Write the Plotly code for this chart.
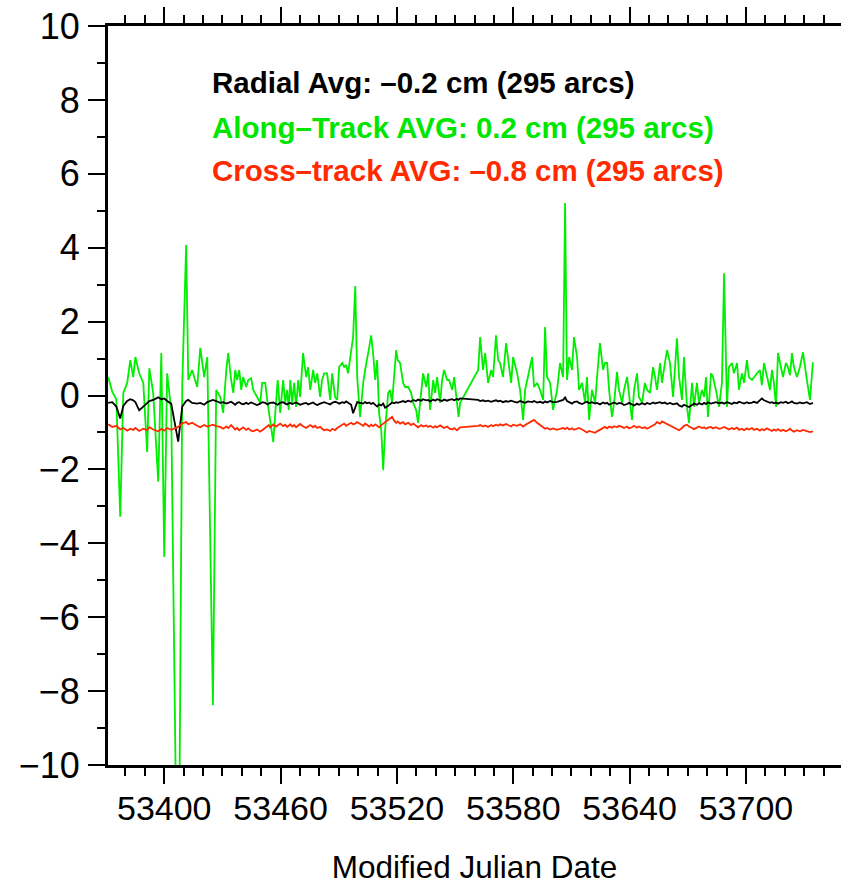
import plotly.graph_objects as go

# Arc epochs (MJD) and per-arc mean orbit differences (cm)
mjd = [
    53371.1, 53373.2, 53375.3, 53377.3, 53378.9, 53380.9, 53382.5, 53384.0, 53385.1, 53387.1,
    53389.2, 53391.2, 53392.3, 53394.3, 53396.9, 53398.5, 53400.0, 53401.5, 53403.6, 53407.2,
    53409.3, 53411.3, 53412.4, 53414.4, 53417.0, 53418.6, 53420.6, 53422.2, 53425.1, 53426.8,
    53428.9, 53430.4, 53432.0, 53433.0, 53434.5, 53435.6, 53436.6, 53437.6, 53438.7, 53439.7,
    53440.7, 53442.3, 53443.3, 53444.8, 53445.9, 53447.9, 53449.5, 53450.5, 53452.1, 53453.1,
    53453.9, 53454.6, 53456.2, 53457.7, 53458.5, 53459.8, 53461.3, 53462.4, 53463.4, 53464.2,
    53465.0, 53466.0, 53467.0, 53468.0, 53469.1, 53470.1, 53471.6, 53473.2, 53474.2, 53475.3,
    53476.8, 53477.8, 53478.9, 53480.4, 53481.4, 53482.5, 53484.0, 53485.6, 53486.6, 53488.1,
    53489.2, 53490.2, 53491.8, 53492.8, 53493.8, 53494.8, 53496.4, 53497.4, 53498.5, 53499.5,
    53501.0, 53502.6, 53503.6, 53504.6, 53505.7, 53506.7, 53507.7, 53508.8, 53509.8, 53510.8,
    53511.9, 53512.9, 53513.9, 53515.5, 53516.5, 53517.5, 53518.6, 53519.6, 53520.4, 53521.6,
    53523.2, 53524.2, 53525.8, 53527.3, 53528.4, 53529.9, 53530.9, 53532.5, 53533.5, 53535.1,
    53536.1, 53537.1, 53538.7, 53539.7, 53540.7, 53542.3, 53543.3, 53544.3, 53545.9, 53546.9,
    53548.5, 53549.5, 53551.0, 53551.8, 53552.6, 53561.9, 53562.9, 53564.4, 53565.5, 53567.0,
    53568.6, 53569.6, 53571.1, 53572.2, 53573.2, 53574.7, 53576.3, 53577.3, 53578.9, 53579.9,
    53582.0, 53583.5, 53585.1, 53586.1, 53587.6, 53589.7, 53590.7, 53592.3, 53593.8, 53595.4,
    53596.4, 53597.4, 53599.0, 53600.5, 53602.6, 53604.1, 53605.7, 53606.7, 53607.7, 53608.8,
    53610.3, 53611.3, 53612.9, 53613.9, 53615.5, 53617.0, 53618.0, 53619.1, 53620.6, 53622.2,
    53623.2, 53624.7, 53626.3, 53627.3, 53628.4, 53629.4, 53630.9, 53632.0, 53633.5, 53634.5,
    53636.1, 53637.1, 53638.7, 53639.7, 53641.2, 53642.3, 53643.8, 53644.8, 53646.4, 53647.9,
    53649.0, 53650.5, 53652.1, 53653.1, 53654.1, 53655.7, 53656.7, 53658.2, 53659.3, 53660.8,
    53662.4, 53664.4, 53665.5, 53667.0, 53668.0, 53669.6, 53670.6, 53672.2, 53673.2, 53674.7,
    53675.8, 53677.3, 53678.4, 53679.4, 53680.4, 53682.0, 53683.0, 53684.5, 53686.1, 53687.6,
    53688.7, 53690.2, 53691.2, 53692.8, 53693.8, 53695.4, 53696.4, 53697.9, 53699.0, 53700.5,
    53701.5, 53703.1, 53704.1, 53705.7, 53707.2, 53708.2, 53709.3, 53710.8, 53712.4, 53713.4,
    53714.4, 53715.5, 53716.5, 53718.0, 53719.1, 53720.6, 53721.6, 53722.7, 53723.7, 53724.7,
    53726.3, 53727.8, 53729.4, 53731.4, 53733.0, 53734.5,
]

along_track = [
    0.50, 0.10, -0.10, -3.28, 0.07, 0.34, 0.96, 0.50, 1.04, 0.60,
    0.34, -1.53, 0.74, 0.07, -2.33, 1.15, -4.37, 0.60, -0.40, -16.0,
    0.30, 4.07, 0.42, 0.69, 0.23, 1.29, 0.50, 1.04, -8.38, 0.15,
    -0.04, -0.47, 0.69, 1.15, 0.42, 0.07, 0.69, 0.42, 0.69, 0.15,
    0.50, 0.23, 0.42, 0.47, 0.15, -0.04, -0.20, 0.34, 0.34, -0.12,
    -0.47, -0.66, -1.26, -0.04, 0.42, -0.47, 0.42, -0.20, 0.15, -0.39,
    0.42, -0.20, 0.34, -0.31, 0.42, -0.04, 1.15, 0.50, 0.77, 0.15,
    0.69, 0.34, 0.60, -0.04, 0.42, 0.60, 0.60, -0.12, 0.60, -0.04,
    -0.12, 0.77, 0.88, 0.77, 0.83, 0.60, 1.15, 1.58, 2.96, 0.50,
    -0.58, 0.34, 0.69, 1.04, 1.30, 1.63, 1.15, 0.42, 0.96, -0.47,
    -0.93, -2.02, -0.93, 0.07, 0.15, -0.20, 0.69, 1.23, 0.96, 0.88,
    0.34, 0.23, 0.23, 0.07, -0.20, -0.39, -0.74, 0.07, 0.60, 0.23,
    0.60, -0.39, 0.42, 0.07, 0.50, -0.20, 0.42, 0.69, 0.42, 0.42,
    0.15, 0.50, -0.20, -0.58, -0.20, 0.69, 1.58, 0.69, 1.15, 0.34,
    0.69, 0.50, 1.63, 0.96, 0.88, 0.50, 1.42, 1.04, 0.34, 1.04,
    0.60, 0.15, -0.66, 0.15, 0.50, 1.04, 0.23, 0.34, 0.15, -0.12,
    1.85, 0.50, 0.34, -0.39, 0.15, 0.88, 0.50, 5.21, 0.42, 1.04,
    0.69, 1.58, 1.04, 0.15, 0.34, -0.20, 0.50, -0.66, 0.15, -0.20,
    0.50, 1.42, 0.69, 0.88, 0.88, 0.15, -0.58, -0.20, 0.64, 0.15,
    -0.20, 0.15, 0.50, -0.04, -0.66, 0.15, 0.60, -0.04, -0.20, 0.34,
    0.15, 0.07, 0.77, 0.50, 0.15, 0.88, 0.34, 0.88, 1.23, 0.88,
    -0.04, 1.55, 0.50, -0.12, 1.04, -0.31, -0.74, 0.34, -0.31, 0.34,
    -0.20, 0.15, -0.04, 0.50, -0.58, 0.60, 0.50, 0.15, -0.31, 0.34,
    3.31, -0.31, 0.77, 0.88, 0.60, 0.88, 0.15, 0.60, 0.34, 0.96,
    0.50, 0.42, 0.50, 0.60, 0.69, 0.28, 0.88, 0.50, 0.15, 0.69,
    0.34, -0.31, 1.15, 0.77, 0.50, 0.88, 0.77, 0.55, 1.15, 0.77,
    0.50, 0.77, 1.17, 0.42, -0.12, 0.90,
]

radial = [
    -0.20, -0.18, -0.30, -0.62, -0.28, -0.15, -0.10, -0.13, -0.18, -0.40,
    -0.30, -0.20, -0.15, -0.12, -0.05, -0.10, -0.08, -0.15, -0.22, -1.25,
    -0.30, -0.15, -0.12, -0.20, -0.22, -0.20, -0.25, -0.18, -0.12, -0.15,
    -0.20, -0.18, -0.22, -0.20, -0.17, -0.21, -0.25, -0.20, -0.18, -0.22,
    -0.24, -0.20, -0.23, -0.19, -0.21, -0.26, -0.22, -0.18, -0.20, -0.24,
    -0.22, -0.20, -0.19, -0.23, -0.25, -0.20, -0.18, -0.22, -0.24, -0.21,
    -0.20, -0.23, -0.21, -0.19, -0.22, -0.25, -0.22, -0.20, -0.24, -0.21,
    -0.19, -0.23, -0.26, -0.22, -0.20, -0.18, -0.21, -0.24, -0.20, -0.17,
    -0.19, -0.22, -0.18, -0.20, -0.16, -0.20, -0.25, -0.48, -0.30, -0.18,
    -0.20, -0.22, -0.18, -0.21, -0.19, -0.23, -0.20, -0.26, -0.30, -0.24,
    -0.27, -0.22, -0.33, -0.28, -0.22, -0.19, -0.21, -0.18, -0.20, -0.17,
    -0.15, -0.18, -0.14, -0.17, -0.12, -0.15, -0.11, -0.14, -0.10, -0.13,
    -0.12, -0.16, -0.11, -0.14, -0.10, -0.13, -0.15, -0.11, -0.14, -0.12,
    -0.10, -0.13, -0.09, -0.12, -0.08, -0.12, -0.15, -0.13, -0.16, -0.14,
    -0.17, -0.15, -0.13, -0.16, -0.14, -0.18, -0.15, -0.17, -0.14, -0.16,
    -0.19, -0.15, -0.17, -0.20, -0.16, -0.18, -0.15, -0.19, -0.17, -0.20,
    -0.16, -0.19, -0.15, -0.18, -0.17, -0.14, -0.12, -0.05, -0.15, -0.18,
    -0.22, -0.18, -0.16, -0.20, -0.23, -0.19, -0.17, -0.21, -0.18, -0.22,
    -0.20, -0.24, -0.19, -0.22, -0.20, -0.25, -0.21, -0.19, -0.23, -0.20,
    -0.22, -0.26, -0.23, -0.20, -0.24, -0.27, -0.22, -0.25, -0.21, -0.24,
    -0.20, -0.23, -0.19, -0.22, -0.20, -0.18, -0.21, -0.19, -0.23, -0.20,
    -0.24, -0.21, -0.27, -0.30, -0.25, -0.28, -0.31, -0.26, -0.22, -0.25,
    -0.21, -0.24, -0.20, -0.23, -0.19, -0.22, -0.20, -0.18, -0.21, -0.19,
    -0.22, -0.18, -0.20, -0.23, -0.19, -0.21, -0.17, -0.20, -0.22, -0.18,
    -0.21, -0.19, -0.17, -0.20, -0.14, -0.08, -0.13, -0.17, -0.20, -0.18,
    -0.21, -0.19, -0.22, -0.18, -0.20, -0.17, -0.21, -0.19, -0.16, -0.20,
    -0.22, -0.19, -0.21, -0.18, -0.23, -0.20,
]

cross_track = [
    -0.78, -0.85, -0.82, -0.92, -0.88, -0.95, -0.90, -0.93, -0.88, -0.96,
    -0.90, -0.94, -0.86, -0.92, -0.97, -0.90, -0.95, -0.88, -0.93, -0.85,
    -0.75, -0.72, -0.78, -0.74, -0.82, -0.86, -0.80, -0.84, -0.79, -0.83,
    -0.85, -0.90, -0.84, -0.88, -0.80, -0.86, -0.92, -0.88, -0.94, -0.90,
    -0.86, -0.93, -0.89, -0.95, -0.97, -0.92, -0.98, -0.94, -0.88, -0.84,
    -0.80, -0.86, -0.78, -0.84, -0.80, -0.76, -0.83, -0.79, -0.85, -0.81,
    -0.78, -0.84, -0.80, -0.86, -0.82, -0.77, -0.83, -0.88, -0.84, -0.80,
    -0.86, -0.82, -0.88, -0.85, -0.90, -0.94, -0.92, -0.96, -0.90, -0.94,
    -0.88, -0.84, -0.80, -0.76, -0.82, -0.78, -0.74, -0.78, -0.76, -0.72,
    -0.78, -0.82, -0.76, -0.80, -0.84, -0.79, -0.83, -0.78, -0.82, -0.86,
    -0.80, -0.76, -0.70, -0.66, -0.62, -0.58, -0.68, -0.74, -0.70, -0.76,
    -0.72, -0.78, -0.74, -0.80, -0.76, -0.82, -0.86, -0.80, -0.84, -0.81,
    -0.85, -0.82, -0.87, -0.83, -0.86, -0.81, -0.85, -0.88, -0.84, -0.89,
    -0.92, -0.88, -0.94, -0.90, -0.86, -0.82, -0.80, -0.84, -0.81, -0.85,
    -0.80, -0.83, -0.79, -0.82, -0.78, -0.81, -0.77, -0.80, -0.84, -0.79,
    -0.82, -0.78, -0.84, -0.80, -0.76, -0.70, -0.66, -0.74, -0.80, -0.86,
    -0.90, -0.88, -0.92, -0.89, -0.93, -0.90, -0.88, -0.91, -0.87, -0.92,
    -0.89, -0.93, -0.90, -0.88, -0.92, -0.97, -1.00, -0.96, -0.99, -1.01,
    -0.97, -0.92, -0.88, -0.85, -0.89, -0.84, -0.87, -0.83, -0.86, -0.82,
    -0.85, -0.88, -0.84, -0.89, -0.86, -0.82, -0.87, -0.84, -0.88, -0.86,
    -0.90, -0.86, -0.82, -0.78, -0.72, -0.76, -0.70, -0.74, -0.78, -0.82,
    -0.86, -0.90, -0.94, -0.88, -0.82, -0.79, -0.84, -0.88, -0.91, -0.87,
    -0.84, -0.88, -0.86, -0.90, -0.87, -0.85, -0.89, -0.86, -0.90, -0.88,
    -0.85, -0.89, -0.92, -0.88, -0.91, -0.87, -0.93, -0.90, -0.94, -0.89,
    -0.92, -0.88, -0.93, -0.90, -0.95, -0.91, -0.94, -0.89, -0.93, -0.96,
    -0.92, -0.95, -0.91, -0.96, -0.93, -0.97, -0.94, -0.90, -0.95, -0.98,
    -0.94, -0.97, -0.93, -0.96, -0.99, -0.97,
]

x_ticks = [53400, 53460, 53520, 53580, 53640, 53700]
y_ticks = [-10, -8, -6, -4, -2, 0, 2, 4, 6, 8, 10]

summary_lines = [
    ("Radial Avg: –0.2 cm (295 arcs)", "#000000"),
    ("Along–Track AVG: 0.2 cm (295 arcs)", "#00e600"),
    ("Cross–track AVG: –0.8 cm (295 arcs)", "#ff2a00"),
]

GREEN = "#00ee00"
RED = "#ff2a00"
FONT = "Liberation Sans, Arial, Helvetica, sans-serif"

fig = go.Figure()
fig.add_trace(go.Scatter(x=mjd, y=along_track, mode="lines",
                         line=dict(color=GREEN, width=1.8), name="Along-track"))
fig.add_trace(go.Scatter(x=mjd, y=radial, mode="lines",
                         line=dict(color="#000000", width=1.8), name="Radial"))
fig.add_trace(go.Scatter(x=mjd, y=cross_track, mode="lines",
                         line=dict(color=RED, width=1.8), name="Cross-track"))

# summary block of per-component averages
ann_y = [0.924, 0.863, 0.805]
for (txt, col), yy in zip(summary_lines, ann_y):
    fig.add_annotation(x=0.139, y=yy, xref="paper", yref="paper",
                       xanchor="left", yanchor="middle", showarrow=False,
                       text=f"<b>{txt}</b>",
                       font=dict(family=FONT, size=29.5, color=col))

fig.update_layout(
    width=841, height=885,
    margin=dict(l=108, r=0, t=26, b=120),
    paper_bgcolor="white", plot_bgcolor="white",
    showlegend=False,
    font=dict(family=FONT, color="black"),
)

fig.update_xaxes(
    range=[53371, 53749],
    tickmode="array", tickvals=x_ticks, ticktext=[str(v) for v in x_ticks],
    ticks="outside", ticklen=16, tickwidth=2, tickcolor="black",
    minor=dict(dtick=10, tick0=53400, ticks="outside", ticklen=8,
               tickwidth=2, tickcolor="black", showgrid=False),
    showline=True, linewidth=3, linecolor="black", mirror="ticks",
    showgrid=False, zeroline=False,
    tickfont=dict(family=FONT, size=34),
    ticklabelstandoff=-5,
    title=dict(text="Modified Julian Date", font=dict(family=FONT, size=31.5),
               standoff=34),
)

fig.update_yaxes(
    range=[-10, 10],
    tickmode="array", tickvals=y_ticks,
    ticktext=[("−" + str(-v)) if v < 0 else str(v) for v in y_ticks],
    ticks="outside", ticklen=17, tickwidth=2, tickcolor="black",
    minor=dict(dtick=1, tick0=0, ticks="outside", ticklen=8,
               tickwidth=2, tickcolor="black", showgrid=False),
    showline=True, linewidth=3, linecolor="black",
    showgrid=False, zeroline=False,
    tickfont=dict(family=FONT, size=36),
    ticklabelstandoff=1,
)

fig.write_html("out.html")
